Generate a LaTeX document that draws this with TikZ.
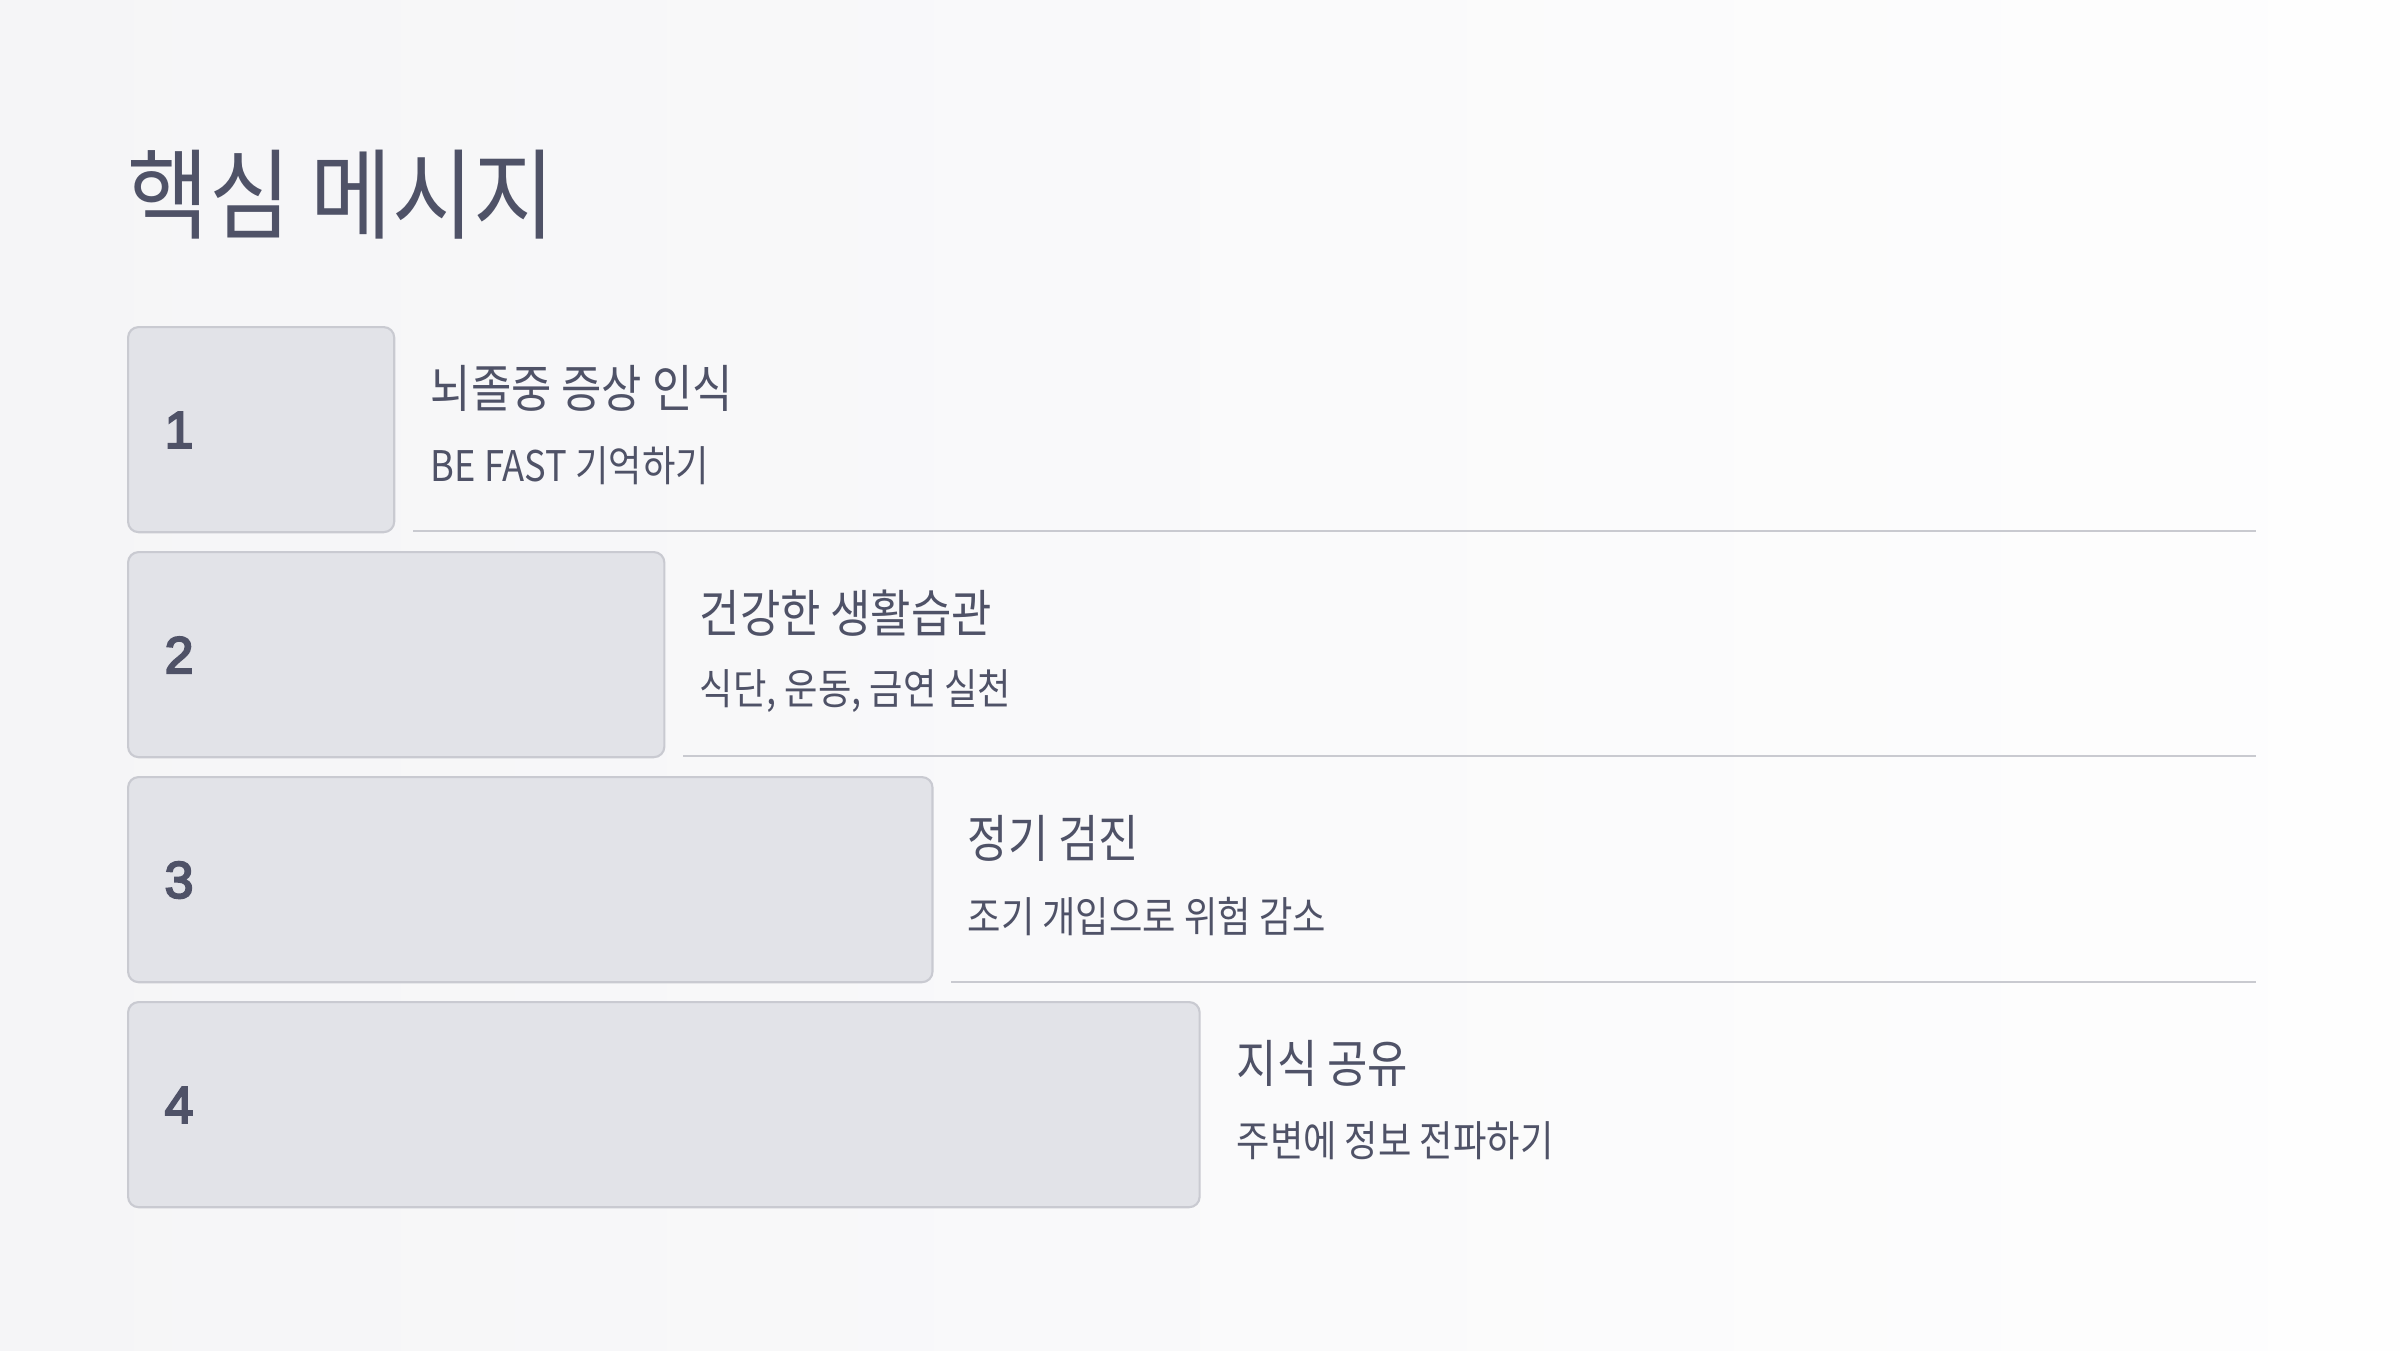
\documentclass[tikz,border=0pt]{standalone}
\usepackage{fontspec}
\setmainfont{Noto Sans CJK KR}[FakeStretch=0.86]
\newfontfamily\krfont{Noto Sans CJK KR}[FakeStretch=0.86]
\newfontfamily\krtitle{Noto Sans CJK KR}[FakeStretch=0.90]
\newfontfamily\numfont{Liberation Sans}[FakeBold=4]
\definecolor{textc}{HTML}{4F5267}
\definecolor{boxfill}{HTML}{E2E3E8}
\definecolor{boxdraw}{HTML}{C9CAD1}
\definecolor{linec}{HTML}{C9CAD0}
\definecolor{bgl}{HTML}{F5F5F7}
\definecolor{bgm}{HTML}{FDFDFE}
\definecolor{bgr}{HTML}{FEFEFE}
\tikzset{
  titletext/.style={anchor=west, inner sep=0pt, text=textc, font=\krtitle\fontsize{28}{30}\selectfont},
  headtext/.style={anchor=west, inner sep=0pt, text=textc, font=\krfont\fontsize{14.5}{16}\selectfont},
  subtext/.style={anchor=west, inner sep=0pt, text=textc, font=\krfont\fontsize{12}{14}\selectfont},
  numtext/.style={anchor=west, inner sep=0pt, text=textc, font=\numfont\fontsize{14.7}{16}\selectfont},
  stepbox/.style={anchor=north west, draw=boxdraw, fill=boxfill, line width=0.6pt, rounded corners=3pt, minimum height=2.05cm, inner sep=0pt},
  sepline/.style={draw=linec, line width=0.6pt}
}
\begin{document}
\begin{tikzpicture}[x=0.01cm,y=-0.01cm]
\shade[left color=bgl, middle color=bgm, right color=bgr] (0,0) rectangle (2400,1350);
\useasboundingbox (0,0) rectangle (2400,1350);

\node[titletext] (title) at (127,195) {핵심 메시지};

% boxes
\node[stepbox, minimum width=2.66cm] (b1) at (127,326) {};
\node[stepbox, minimum width=5.36cm] (b2) at (127,551) {};
\node[stepbox, minimum width=8.04cm] (b3) at (127,776) {};
\node[stepbox, minimum width=10.71cm] (b4) at (127,1001) {};

% numbers
\node[numtext] (n1) at (164,430) {1};
\node[numtext] (n2) at (164,655) {2};
\node[numtext] (n3) at (164,880) {3};
\node[numtext] (n4) at (164,1105) {4};

% headings and subtexts
\node[headtext] (h1) at (430,388) {뇌졸중 증상 인식};
\node[subtext]  (s1) at (430,466) {BE FAST 기억하기};
\node[headtext] (h2) at (699,613) {건강한 생활습관};
\node[subtext]  (s2) at (699,691) {식단, 운동, 금연 실천};
\node[headtext] (h3) at (967,838) {정기 검진};
\node[subtext]  (s3) at (967,916) {조기 개입으로 위험 감소};
\node[headtext] (h4) at (1236,1063) {지식 공유};
\node[subtext]  (s4) at (1236,1141) {주변에 정보 전파하기};

% separator lines
\coordinate (l1a) at (413,531);  \coordinate (l1b) at (2256,531);
\coordinate (l2a) at (683,756);  \coordinate (l2b) at (2256,756);
\coordinate (l3a) at (951,982);  \coordinate (l3b) at (2256,982);
\draw[sepline] (l1a) -- (l1b);
\draw[sepline] (l2a) -- (l2b);
\draw[sepline] (l3a) -- (l3b);
\end{tikzpicture}
\end{document}
